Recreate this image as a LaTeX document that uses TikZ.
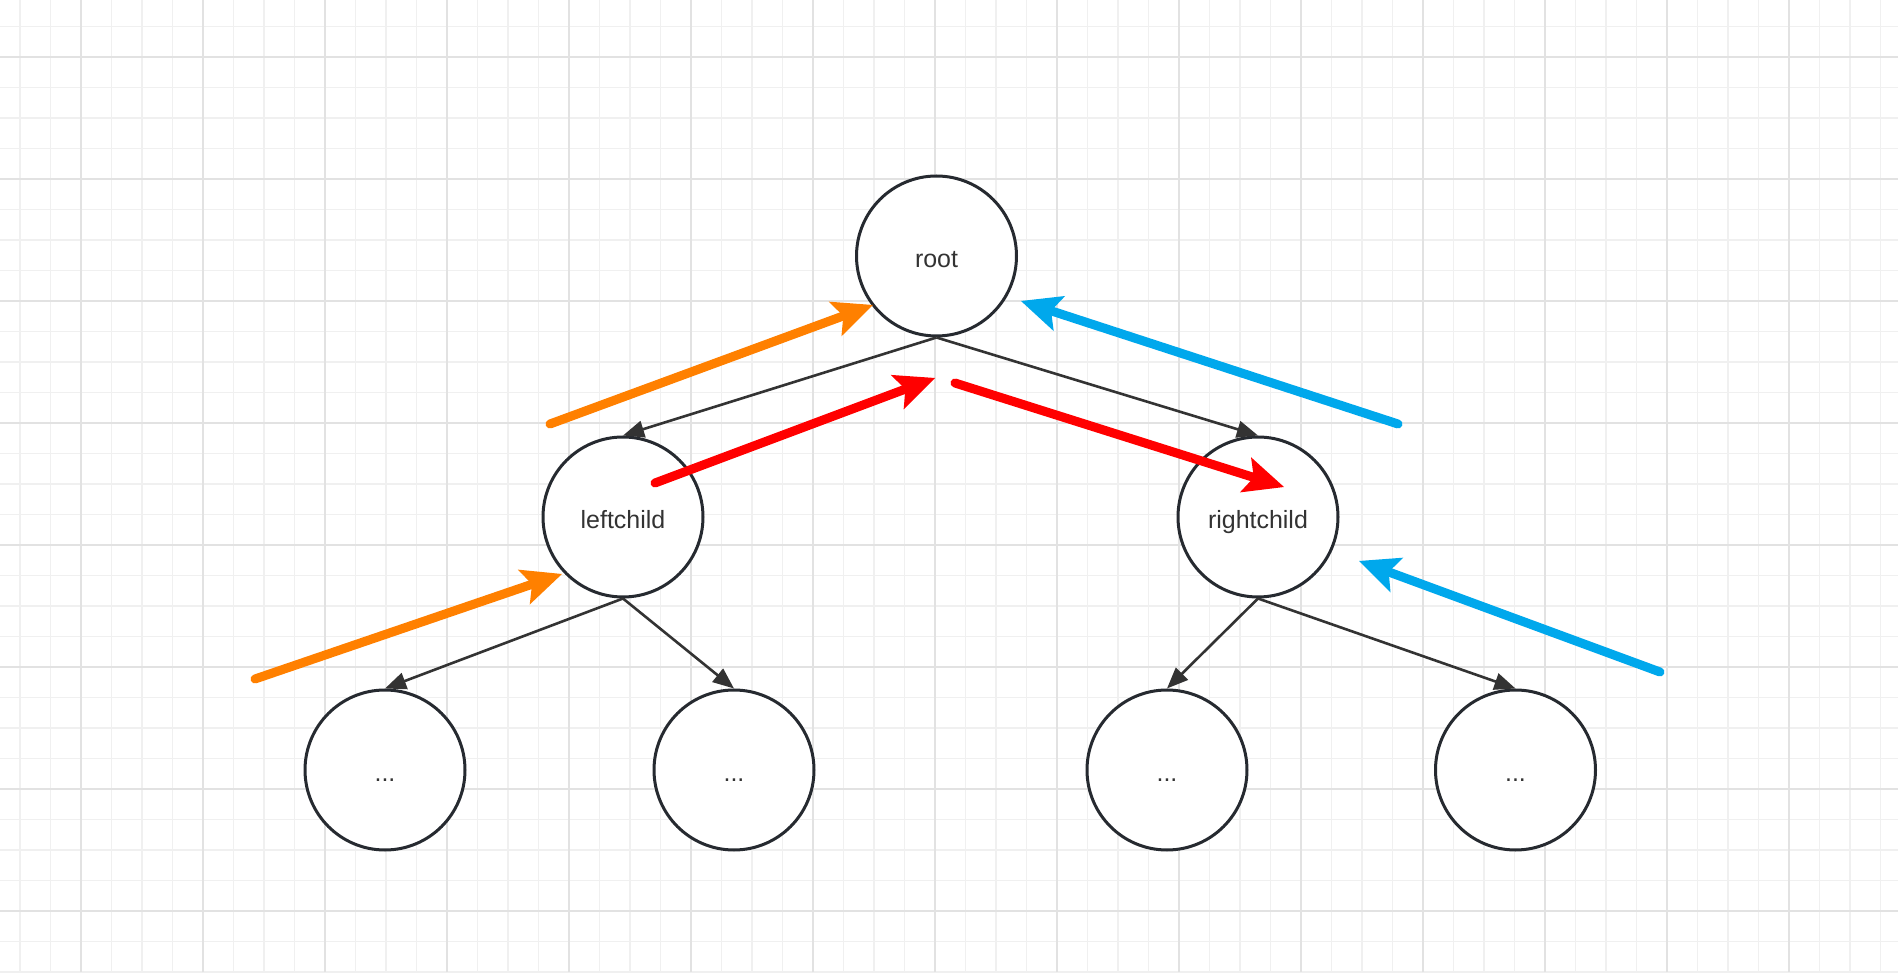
\documentclass[tikz,border=0pt]{standalone}
\usepackage{fontspec}
\setmainfont{Liberation Sans}
\usepackage{xcolor}
\usepackage{tikz}
\usetikzlibrary{arrows.meta,positioning,calc}

\definecolor{gridminor}{RGB}{240,240,240}
\definecolor{gridmajor}{RGB}{226,226,226}
\definecolor{circleline}{RGB}{38,42,48}
\definecolor{edgeline}{RGB}{51,51,51}
\definecolor{passorange}{RGB}{255,128,0}
\definecolor{passred}{RGB}{255,0,0}
\definecolor{passblue}{RGB}{0,168,236}

\begin{document}
\begin{tikzpicture}[
    font=\fontsize{7.1pt}{8.5pt}\selectfont,
    minorline/.style={gridminor,line width=0.015cm},
    majorline/.style={gridmajor,line width=0.02cm},
    treenode/.style={circle,draw=circleline,line width=0.03cm,fill=white,
      minimum size=1.6cm,inner sep=0pt,text=edgeline,
      text height=0.86em,text depth=0.18em},
    child/.style={-{Triangle[length=6pt,width=4.8pt]},edgeline,
      line width=0.026cm},
    pass/.style={-{Stealth[length=11.5pt,width=10.5pt,inset=2.5pt,line width=0pt]},
      line width=0.09cm,line cap=round}
  ]
    % background and the editor grid
    \fill[white] (0,0) rectangle (18.98,9.72);
    \useasboundingbox (0,0) rectangle (18.98,9.72);
    \foreach \i in {0,...,62}
      \draw[minorline] ({0.2+0.305*\i},0) -- ++(0,9.72);
    \foreach \i in {0,...,31}
      \draw[minorline] (0,{9.455-0.305*\i}) -- ++(18.98,0);
    \foreach \i in {0,...,14}
      \draw[majorline] ({0.81+1.22*\i},0) -- ++(0,9.72);
    \foreach \i in {0,...,7}
      \draw[majorline] (0,{9.15-1.22*\i}) -- ++(18.98,0);

    % the tree
    \node[treenode] (root) at (9.365,7.16) {root};
    \node[treenode] (leftchild) at (6.23,4.55) {leftchild};
    \node[treenode] (rightchild) at (12.58,4.55) {rightchild};
    \node[treenode] (ll) at (3.85,2.02) {...};
    \node[treenode] (lr) at (7.34,2.02) {...};
    \node[treenode] (rl) at (11.67,2.02) {...};
    \node[treenode] (rr) at (15.155,2.02) {...};

    \draw[child] (root.south) -- (leftchild.north);
    \draw[child] (root.south) -- (rightchild.north);
    \draw[child] (leftchild.south) -- (ll.north);
    \draw[child] (leftchild.south) -- (lr.north);
    \draw[child] (rightchild.south) -- (rl.north);
    \draw[child] (rightchild.south) -- (rr.north);

    % traversal arrows
    \coordinate (orangeup) at (5.50,5.48);
    \coordinate (orangeuptip) at (8.73,6.67);
    \coordinate (orangelow) at (2.55,2.93);
    \coordinate (orangelowtip) at (5.62,3.98);
    \coordinate (redup) at (6.55,4.89);
    \coordinate (reduptip) at (9.35,5.94);
    \coordinate (reddown) at (9.55,5.89);
    \coordinate (reddowntip) at (12.84,4.85);
    \coordinate (blueup) at (13.98,5.48);
    \coordinate (blueuptip) at (10.21,6.71);
    \coordinate (bluelow) at (16.60,3.00);
    \coordinate (bluelowtip) at (13.59,4.11);

    \draw[pass,passorange] (orangeup) -- (orangeuptip);
    \draw[pass,passorange] (orangelow) -- (orangelowtip);
    \draw[pass,passred] (redup) -- (reduptip);
    \draw[pass,passred] (reddown) -- (reddowntip);
    \draw[pass,passblue] (blueup) -- (blueuptip);
    \draw[pass,passblue] (bluelow) -- (bluelowtip);
  \end{tikzpicture}
\end{document}
